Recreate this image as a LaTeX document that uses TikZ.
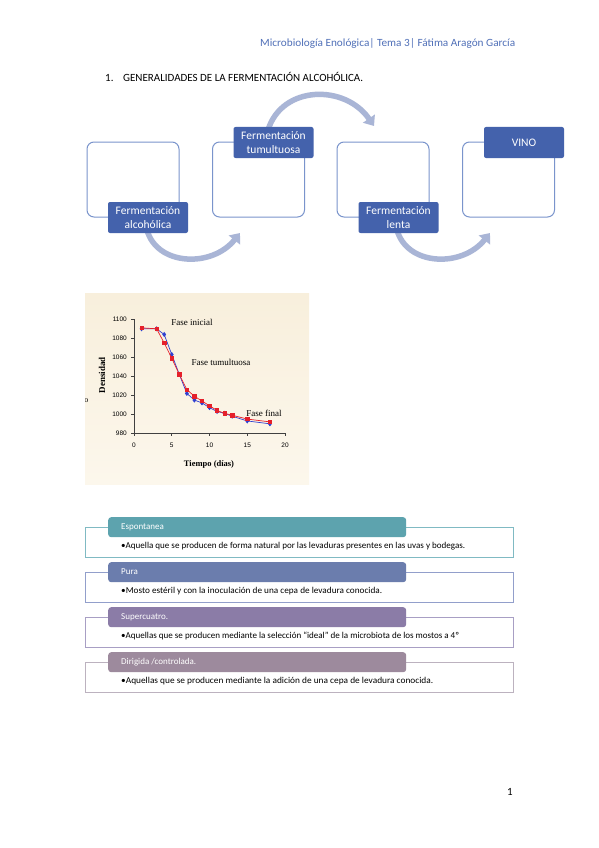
\documentclass[tikz,border=0pt]{standalone}
\usepackage{graphicx}
\usepackage{fontspec}
\setmainfont{Carlito}
\newfontfamily\timesf{Liberation Serif}
\newfontfamily\arialf{Liberation Sans}
\usetikzlibrary{arrows.meta,plotmarks}
\newcommand\fitto[2]{\resizebox{#1}{\height}{#2}}
\definecolor{hdrblue}{HTML}{5070B8}
\definecolor{lblblue}{HTML}{4462AC}
\definecolor{boxline}{HTML}{7A94CC}
\definecolor{arrowc}{HTML}{A9B5D6}
\definecolor{chartbgtop}{HTML}{F8EFDC}
\definecolor{chartbgbot}{HTML}{FCF7EC}
\definecolor{redser}{HTML}{E5202A}
\definecolor{blueser}{HTML}{3040D0}
\definecolor{axisc}{HTML}{404040}
\definecolor{ea}{HTML}{5DA3AE}\definecolor{eal}{HTML}{80BAC3}
\definecolor{eb}{HTML}{6B7DAD}\definecolor{ebl}{HTML}{929FCB}
\definecolor{ec}{HTML}{8B7CA7}\definecolor{ecl}{HTML}{A89FC4}
\definecolor{ed}{HTML}{9D8A9D}\definecolor{edl}{HTML}{BCB2BF}
\tikzset{
  stagebox/.style={draw=boxline, line width=1pt, fill=white, rounded corners=7pt,
    minimum width=92pt, minimum height=75pt, inner sep=0pt},
  stagelbl/.style={fill=lblblue, rounded corners=2pt, text=white, align=center,
    minimum width=80pt, minimum height=31pt, inner sep=0pt,
    font=\fontsize{11.5}{13.5}\selectfont},
  flowarrow/.style={draw=arrowc, line width=5.5pt, -{Triangle[width=14pt,length=9pt]}},
  hdrbox/.style={rounded corners=3pt, minimum width=298pt, minimum height=20pt,
    inner sep=0pt, anchor=north west},
  hdrtxt/.style={text=white, anchor=west, inner sep=0pt, font=\fontsize{9}{10}\selectfont},
  bodytxt/.style={text=black, anchor=west, inner sep=0pt, font=\fontsize{9}{10}\selectfont},
  outerbox/.style={line width=0.8pt},
  ticklbl/.style={inner sep=0pt, font=\arialf\fontsize{6.5}{7}\selectfont},
  serif/.style={inner sep=0pt, font=\timesf\fontsize{9}{10}\selectfont},
}
\begin{document}
\begin{tikzpicture}[x=1pt,y=-1pt]
\useasboundingbox (0,0) rectangle (599,848);
\fill[white] (0,0) rectangle (599,848);

% running header and title
\node[anchor=west, text=hdrblue, inner sep=0pt, font=\fontsize{11}{13}\selectfont] (hdr) at (260,43)
  {\fitto{255pt}{Microbiología Enológica| Tema 3| Fátima Aragón García}};
\node[anchor=base west, inner sep=0pt, font=\fontsize{11}{13}\selectfont] (num) at (105,82) {1.};
\node[anchor=base west, inner sep=0pt, font=\fontsize{11}{13}\selectfont] (title) at (123,82)
  {\fitto{240pt}{GENERALIDADES DE LA FERMENTACIÓN ALCOHÓLICA.}};

% flow arrows (behind boxes)
\coordinate (a1s) at (147,230);
\coordinate (a1e) at (240,233);
\coordinate (a2s) at (268,130);
\coordinate (a2e) at (374,126);
\coordinate (a3s) at (397,230);
\coordinate (a3e) at (490,233);
\draw[flowarrow] (a1s) .. controls (157,266) and (212,268) .. (a1e);
\draw[flowarrow] (a2s) .. controls (282,85) and (345,84) .. (a2e);
\draw[flowarrow] (a3s) .. controls (407,266) and (462,268) .. (a3e);

% stage boxes
\node[stagebox] (b1) at (133,179.5) {};
\node[stagebox] (b2) at (258.5,179.5) {};
\node[stagebox] (b3) at (383,179.5) {};
\node[stagebox] (b4) at (508.5,179.5) {};
\node[stagelbl] (l1) at (148,217.5) {Fermentación\\alcohólica};
\node[stagelbl] (l2) at (273.5,142.5) {Fermentación\\tumultuosa};
\node[stagelbl] (l3) at (398.5,217.5) {Fermentación\\lenta};
\node[stagelbl] (l4) at (524,142.5) {VINO};

% chart
\shade[top color=chartbgtop, bottom color=chartbgbot] (85,293) rectangle (309,484);
\begin{scope}
\clip (85,293) rectangle (309,484);
\node[inner sep=0pt, font=\timesf\fontsize{8}{8}\selectfont] (frag) at (86.3,401) {o};
\end{scope}
\begin{scope}[shift={(134,433.3)}, x=7.55pt, y=0.95pt]
  \draw[axisc, line width=0.6pt] (0,120) -- (0,0) -- (20,0);
  \foreach \v/\l in {0/980,20/1000,40/1020,60/1040,80/1060,100/1080,120/1100}{
    \draw[axisc, line width=0.6pt] (0,\v) -- ++(-3pt,0);
    \node[ticklbl, anchor=east] (yl\l) at (-0.93,\v) {\l};
  }
  \foreach \d in {0,5,10,15,20}{
    \draw[axisc, line width=0.6pt] (\d,0) -- ++(0,-3pt);
    \node[ticklbl] (xl\d) at (\d,-12.3) {\d};
  }
  \draw[blueser, line width=0.7pt, mark=diamond*, mark size=2pt, mark options={fill=blueser}]
    plot coordinates {(1,110) (3,110) (4,104) (5,83) (6,62) (7,42) (8,35) (9,32) (10,27) (11,23) (12,21) (13,18) (15,13) (18,10)};
  \draw[redser, line width=0.7pt, mark=square*, mark size=1.7pt, mark options={fill=redser}]
    plot coordinates {(1,111) (3,110) (4,95) (5,79) (6,62) (7,46) (8,39) (9,34) (10,29) (11,24) (12,21) (13,19) (15,15) (18,12)};
\end{scope}
\node[inner sep=0pt, rotate=90, font=\timesf\bfseries\fontsize{9}{10}\selectfont] (ytitle) at (102,375) {Densidad};
\node[inner sep=0pt, font=\timesf\bfseries\fontsize{8.5}{10}\selectfont] (xtitle) at (209,464) {Tiempo (días)};
\node[serif] (ph1) at (192,322) {Fase inicial};
\node[serif] (ph2) at (221,362) {Fase tumultuosa};
\node[serif] (ph3) at (264,413) {Fase final};

% list of fermentation types
\draw[outerbox, draw=eal] (85,527) rectangle (513,557);
\node[hdrbox, fill=ea] (h1) at (108,517) {};
\node[hdrtxt] (h1t) at (121,527) {Espontanea};
\node[bodytxt] (t1) at (121,546) {\fitto{344pt}{•Aquella que se producen de forma natural por las levaduras presentes en las uvas y bodegas.}};

\draw[outerbox, draw=ebl] (85,572) rectangle (513,602);
\node[hdrbox, fill=eb] (h2) at (108,562) {};
\node[hdrtxt] (h2t) at (121,572) {Pura};
\node[bodytxt] (t2) at (121,591) {\fitto{261pt}{•Mosto estéril y con la inoculación de una cepa de levadura conocida.}};

\draw[outerbox, draw=ecl] (85,617) rectangle (513,647);
\node[hdrbox, fill=ec] (h3) at (108,607) {};
\node[hdrtxt] (h3t) at (121,617) {Supercuatro.};
\node[bodytxt] (t3) at (121,636) {\fitto{338pt}{•Aquellas que se producen mediante la selección “ideal” de la microbiota de los mostos a 4º}};

\draw[outerbox, draw=edl] (85,662) rectangle (513,692);
\node[hdrbox, fill=ed] (h4) at (108,652) {};
\node[hdrtxt] (h4t) at (121,662) {Dirigida /controlada.};
\node[bodytxt] (t4) at (121,681) {\fitto{312pt}{•Aquellas que se producen mediante la adición de una cepa de levadura conocida.}};

% page number
\node[inner sep=0pt, font=\fontsize{11}{13}\selectfont] (pg) at (510,792) {1};
\end{tikzpicture}
\end{document}
